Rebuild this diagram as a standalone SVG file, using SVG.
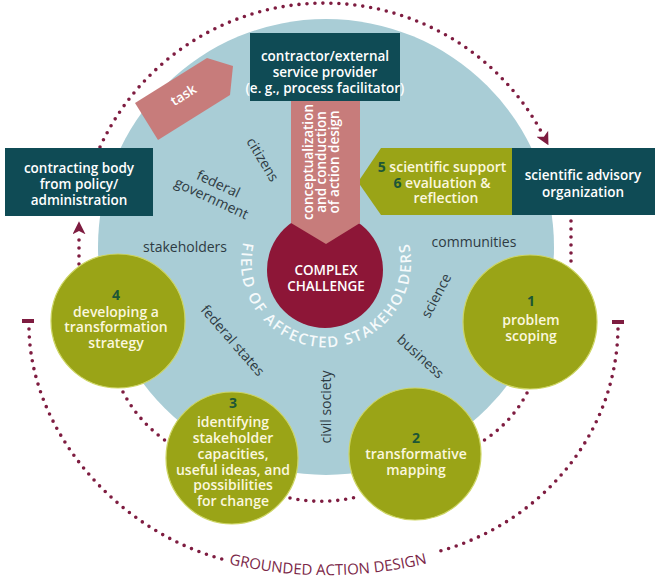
<svg xmlns="http://www.w3.org/2000/svg" width="660" height="578" viewBox="0 0 660 578">
<defs>
<style>
.b{font-family:"Open Sans","Liberation Sans",sans-serif;font-weight:600;font-size:13.5px;fill:#ffffff;text-anchor:middle}
.c{font-family:"Open Sans","Liberation Sans",sans-serif;font-weight:600;font-size:14px;fill:#fbf7de;text-anchor:middle}
.n{fill:#1d5636;font-weight:700}
.l{font-family:"Open Sans","Liberation Sans",sans-serif;font-weight:400;font-size:14px;fill:#2e3b43;text-anchor:middle}
.dot{fill:none;stroke:#7e1c40;stroke-width:3.6;stroke-linecap:round;stroke-dasharray:0 8}
.teal{fill:#0f4b55}
.olive{fill:#9aa417;stroke:#cdd563;stroke-width:1.2}
.pink{fill:#c77c7b}
</style>
<marker id="arr" viewBox="0 0 10 10" refX="1" refY="5" markerWidth="13" markerHeight="13" markerUnits="userSpaceOnUse" orient="auto">
<path d="M0,0 L10,5 L0,10 L2.5,5 z" fill="#7e1c40"/>
</marker>
<path id="fieldArc" d="M 244,240 A 85 85 0 1 0 408,240"/>
<path id="groundArc" d="M 190,553 A 431 431 0 0 0 466,552"/>
</defs>

<g id="field">
<circle cx="326" cy="247" r="228" fill="#a9cdd6"/>
</g>

<g id="connectors">
<path class="dot" d="M 100,147 A 247 247 0 0 1 543,135" marker-end="url(#arr)"/>
<path class="dot" d="M 571,221 L 571,262"/>
<path class="dot" d="M 527,393 Q 512,422 483,441"/>
<path class="dot" d="M 290,498 Q 323,505 357,497"/>
<path class="dot" d="M 123,392 Q 138,421 166,441"/>
<path class="dot" d="M 79,264 L 79,233" marker-end="url(#arr)"/>
<path class="dot" d="M 29,329 C 31,430 115,530 222,559"/>
<path class="dot" d="M 618,329 C 616,440 535,525 440,551"/>
<rect x="22" y="319" width="12" height="4" fill="#7e1c40"/>
<rect x="612" y="320" width="12" height="4" fill="#7e1c40"/>
<text font-family="Open Sans, Liberation Sans, sans-serif" font-size="15" fill="#7b2748" text-anchor="middle"><textPath href="#groundArc" startOffset="50%">GROUNDED ACTION DESIGN</textPath></text>
</g>

<g id="contracting-body">
<rect class="teal" x="5" y="148" width="148" height="68"/>
<text class="b" x="79" y="173">contracting body</text>
<text class="b" x="79" y="189">from policy/</text>
<text class="b" x="79" y="205">administration</text>
</g>

<g id="contractor">
<rect class="teal" x="250" y="33" width="150" height="68"/>
<text class="b" x="325" y="61">contractor/external</text>
<text class="b" x="325" y="77">service provider</text>
<text class="b" x="325" y="93" font-size="12.5">(e. g., process facilitator)</text>
</g>

<g id="task">
<polygon class="pink" points="135,103 207,58 233,66 230,95 158,140"/>
<text class="b" font-size="14" transform="translate(186,99) rotate(-32)">task</text>
</g>

<g id="scientific-advisory">
<rect class="teal" x="512" y="148" width="143" height="67"/>
<text class="b" x="583" y="180">scientific advisory</text>
<text class="b" x="583" y="197">organization</text>
</g>

<g id="scientific-support">
<polygon fill="#9aa417" points="358,182 381,148 512,148 512,215 381,215"/>
<text class="c" x="442" y="172"><tspan class="n">5</tspan> scientific support</text>
<text class="c" x="442" y="188"><tspan class="n">6</tspan> evaluation &amp;</text>
<text class="c" x="446" y="203">reflection</text>
</g>

<g id="complex-challenge">
<circle cx="325" cy="270" r="58" fill="#8d1637"/>
<text class="b" font-size="15.5" x="326" y="275">COMPLEX</text>
<text class="b" font-size="15.5" x="326" y="291">CHALLENGE</text>
</g>

<g id="action-design">
<polygon class="pink" points="291,101 360,101 360,223 326,244 291,223"/>
<text class="b" transform="translate(313,162) rotate(-90)">conceptualization</text>
<text class="b" transform="translate(326,162) rotate(-90)">and conduction</text>
<text class="b" transform="translate(339,162) rotate(-90)">of action design</text>
</g>

<g id="field-label">
<text font-family="Open Sans, Liberation Sans, sans-serif" font-weight="600" font-size="15" letter-spacing="1.7" fill="#f6fafb" text-anchor="middle"><textPath href="#fieldArc" startOffset="50%">FIELD OF AFFECTED STAKEHOLDERS</textPath></text>
</g>

<g id="stakeholder-labels">
<text class="l" transform="translate(262,160) rotate(59)" y="4">citizens</text>
<text class="l" transform="translate(215,191) rotate(25)"><tspan x="0" y="-3">federal</tspan><tspan x="0" y="13">government</tspan></text>
<text class="l" x="185" y="252">stakeholders</text>
<text class="l" transform="translate(232,341) rotate(49)" y="4">federal states</text>
<text class="l" transform="translate(327,407) rotate(-90)" y="4">civil society</text>
<text class="l" x="474" y="247">communities</text>
<text class="l" transform="translate(437,296) rotate(-62)" y="4">science</text>
<text class="l" transform="translate(420,357) rotate(42)" y="4">business</text>
</g>

<g id="step1">
<circle class="olive" cx="530" cy="322" r="67"/>
<text class="c" x="531" y="306"><tspan class="n">1</tspan></text>
<text class="c" x="531" y="325">problem</text>
<text class="c" x="531" y="341">scoping</text>
</g>

<g id="step2">
<circle class="olive" cx="415" cy="454" r="66"/>
<text class="c" x="416" y="443"><tspan class="n">2</tspan></text>
<text class="c" x="416" y="459">transformative</text>
<text class="c" x="416" y="475">mapping</text>
</g>

<g id="step3">
<circle class="olive" cx="232" cy="458" r="66"/>
<text class="c" x="233" y="408"><tspan class="n">3</tspan></text>
<text class="c" x="233" y="427">identifying</text>
<text class="c" x="233" y="443">stakeholder</text>
<text class="c" x="233" y="459">capacities,</text>
<text class="c" x="233" y="475">useful ideas, and</text>
<text class="c" x="233" y="490">possibilities</text>
<text class="c" x="233" y="506">for change</text>
</g>

<g id="step4">
<circle class="olive" cx="118" cy="321" r="67"/>
<text class="c" x="116" y="300"><tspan class="n">4</tspan></text>
<text class="c" x="116" y="317">developing a</text>
<text class="c" x="116" y="332">transformation</text>
<text class="c" x="116" y="348">strategy</text>
</g>
</svg>
